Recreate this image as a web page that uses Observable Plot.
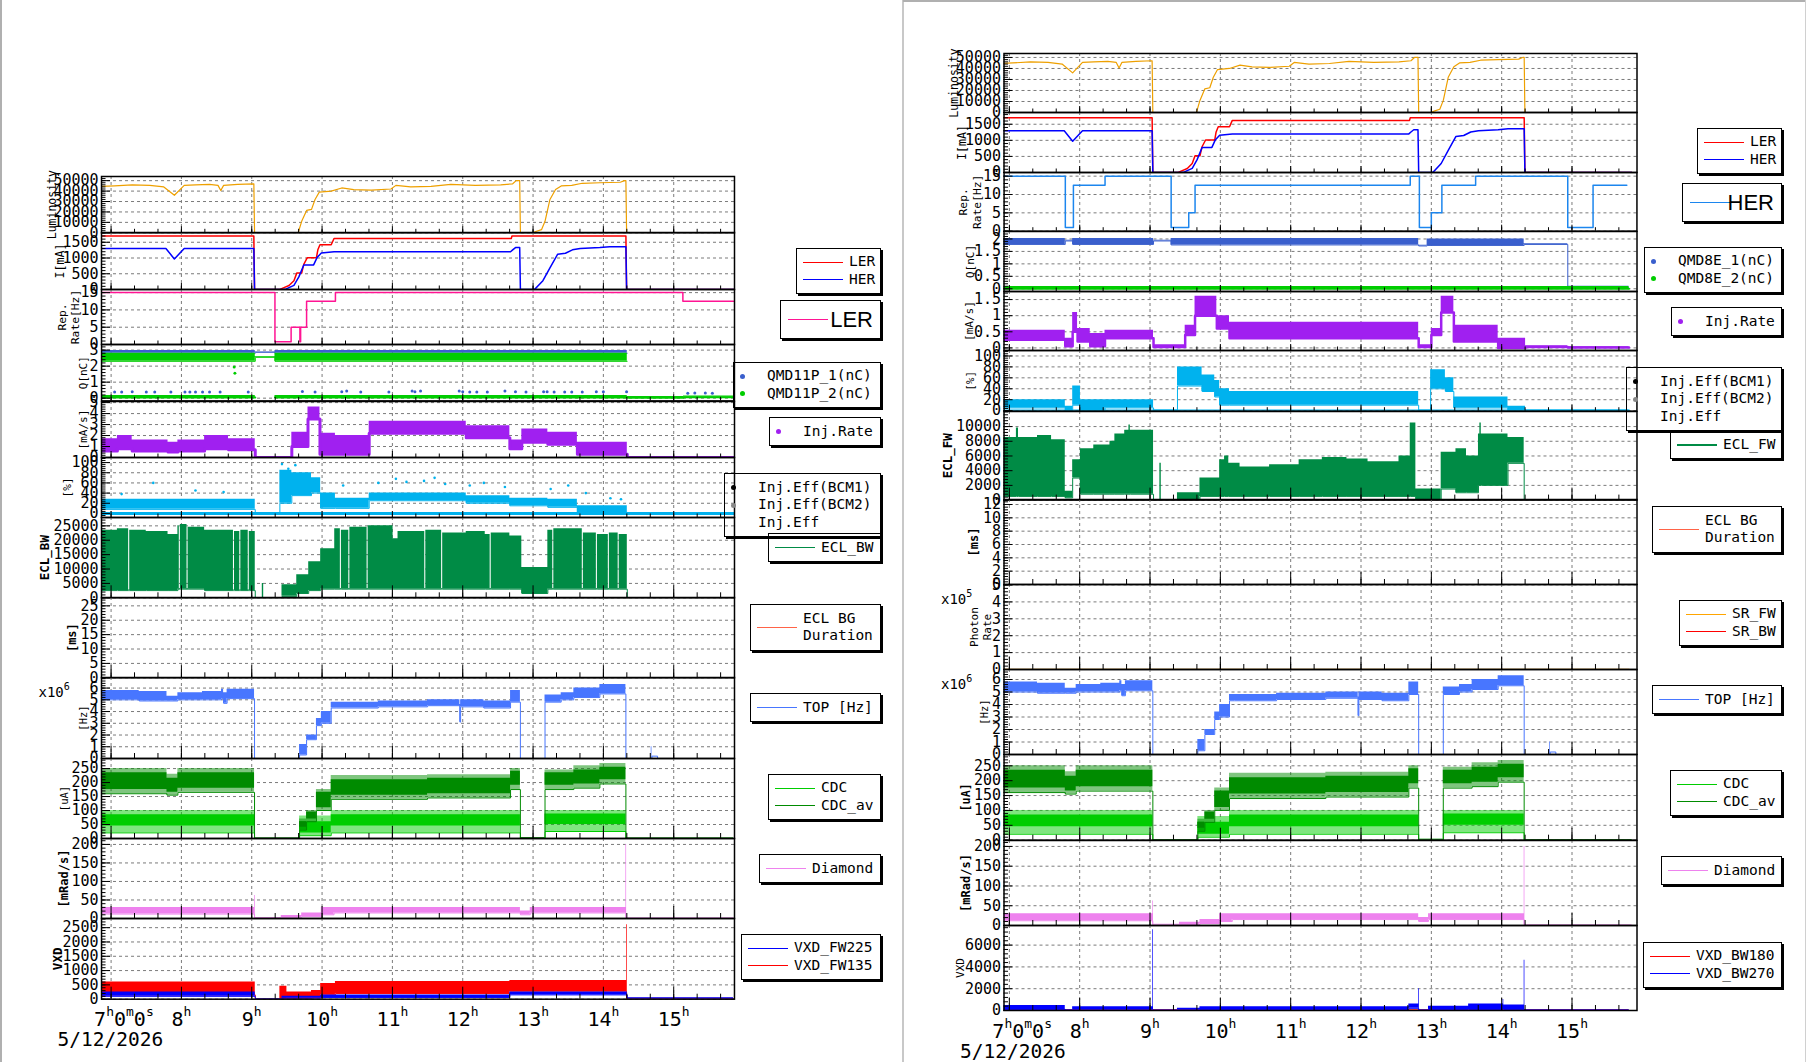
<!DOCTYPE html>
<html><head><meta charset="utf-8">
<script src="https://cdn.jsdelivr.net/npm/d3@7"></script>
<script src="https://cdn.jsdelivr.net/npm/@observablehq/plot@0.6"></script>
<style>
body{margin:0;background:#fff;}
#page{position:relative;width:1806px;height:1062px;overflow:hidden;background:#fff;font-family:"DejaVu Sans Mono",monospace;}
.strip{position:absolute;}
.leg{position:absolute;border:1px solid #000;box-shadow:2px 2px 0 0 #000;box-sizing:border-box;font-family:"DejaVu Sans Mono",monospace;font-size:14.5px;color:#000;}
.leg span{position:absolute;white-space:pre;}
</style></head><body><div id="page"></div>
<script>
// ---------------- DATA (time in hours) ----------------
const hourTicks = [7, 8, 9, 10, 11, 12, 13, 14, 15];
const hourLabels = ["7^h0^m0^s", "8^h", "9^h", "10^h", "11^h", "12^h", "13^h", "14^h", "15^h"];
const dateLabel = "5/12/2026";

const lumData = [[6.86,44500],[7.05,45000],[7.30,46000],[7.55,45500],[7.75,44000],[7.90,36000],[8.04,45500],[8.20,46000],[8.40,46500],[8.52,45500],[8.56,40500],[8.60,45500],[8.80,46500],[9.03,47000],[9.04,0],[9.66,0],[9.71,11000],[9.78,21500],[9.85,22500],[9.90,32000],[9.96,39000],[10.13,40000],[10.28,43000],[10.45,41500],[10.70,41000],[10.98,42000],[11.05,45500],[11.26,44000],[11.55,44500],[11.83,46500],[12.18,45500],[12.54,46000],[12.71,47000],[12.76,50000],[12.81,50000],[12.82,0],[12.99,0],[13.05,1500],[13.12,3000],[13.17,11000],[13.24,32000],[13.32,41500],[13.40,45000],[13.55,45500],[13.70,47500],[13.95,48000],[14.24,48500],[14.30,50000],[14.32,50000],[14.33,0],[15.85,0]];
const currLER = [[6.86,1700],[9.03,1700],[9.04,0],[9.40,0],[9.45,50],[9.53,125],[9.60,280],[9.64,520],[9.71,520],[9.74,800],[9.79,1010],[9.92,1010],[9.94,1260],[9.97,1420],[10.13,1420],[10.17,1620],[12.69,1620],[12.70,1700],[14.32,1700],[14.33,0],[15.85,0]];
const currHER = [[6.86,1300],[7.78,1300],[7.90,970],[8.04,1300],[9.03,1300],[9.04,0],[9.45,0],[9.49,20],[9.60,130],[9.67,400],[9.74,780],[9.88,780],[9.93,1020],[9.99,1160],[10.17,1200],[12.68,1200],[12.71,1260],[12.75,1330],[12.81,1330],[12.82,0],[13.00,0],[13.03,20],[13.14,280],[13.24,690],[13.35,1120],[13.46,1150],[13.56,1260],[13.67,1300],[13.95,1330],[14.09,1360],[14.32,1360],[14.33,0],[15.85,0]];
const repLER = [[6.86,15],[9.33,0.8],[9.56,5],[9.685,0.8],[9.695,5],[9.78,12.5],[10.19,15],[15.13,12.5],[15.85,12.5]];
const repHER = [[6.86,15],[7.795,1],[7.91,12.5],[8.36,15],[9.30,1],[9.55,5],[9.64,12.5],[12.70,15],[12.83,1],[13.00,5],[13.15,12.5],[13.63,15],[14.94,1],[15.30,12.5],[15.78,12.5]];

// [t, low, high] bands (optionally [t, low, coreLow, coreHigh, high])
const qmd11p1 = [[6.86,2.8,2.98],[9.05,2.86,2.9],[9.33,2.8,2.98],[14.34,2.8,2.98]];
const qmd11p2 = [[6.86,2.3,2.8],[9.05,2.55,2.6],[9.33,2.3,2.8],[14.34,2.3,2.8]];
const qmd11p2Low = [[6.86,0.04,0.16],[9.05,0.04,0.16],[9.05,null,null],[9.33,0.04,0.16],[14.34,0.03,0.1],[15.14,0.05,0.14],[15.85,0.05,0.14]];
const qmd11p1Low = [[7.05,0.38],[7.15,0.38],[7.3,0.4],[7.5,0.38],[7.62,0.38],[7.85,0.38],[8.05,0.38],[8.12,0.38],[8.2,0.38],[8.3,0.38],[8.4,0.38],[8.55,0.38],[8.95,0.38],[9.72,0.42],[9.9,0.38],[10.28,0.4],[10.35,0.45],[10.55,0.38],[10.95,0.38],[11.28,0.45],[11.32,0.4],[11.4,0.45],[11.95,0.45],[12.0,0.4],[12.1,0.38],[12.2,0.38],[12.35,0.38],[12.6,0.45],[12.75,0.4],[12.9,0.38],[13.15,0.4],[13.2,0.4],[13.3,0.38],[13.45,0.38],[13.55,0.38],[13.7,0.38],[13.9,0.4],[14.0,0.4],[14.33,0.4],[15.2,0.3],[15.3,0.32],[15.45,0.32],[15.55,0.3]];
const qmd11p2Dots = [[8.75,1.95],[8.76,1.55]];
const qmd8e1 = [[6.86,1.78,2.02],[7.795,1.92,1.95],[7.90,1.78,2.02],[9.05,1.92,1.95],[9.30,1.76,2.02],[12.82,1.72,1.75],[12.94,1.74,2.0],[14.32,1.78,1.81],[14.94,0.04,0.1],[15.81,0.04,0.1]];
const qmd8e2 = [[6.86,0,0.09],[15.81,0,0.09]];

const injRateL = [[6.86,0.6,1.7],[7.09,0.8,2.0],[7.30,0.6,1.6],[7.81,0.5,1.4],[7.95,0.6,1.6],[8.33,0.8,2.0],[8.67,0.7,1.7],[9.05,0,0.05],[9.57,1.0,2.3],[9.80,3.5,4.6],[9.97,0.3,2.2],[10.19,0.3,2.0],[10.67,2.2,3.3],[12.05,1.8,2.9],[12.67,0.8,1.6],[12.84,1.4,2.6],[13.21,1.2,2.3],[13.63,0.3,1.4],[14.34,0,0.05],[15.85,0,0.05]];
const injRateR = [[6.86,0.25,0.55],[7.795,0.05,0.3],[7.90,0.5,1.1],[7.97,0.2,0.6],[8.15,0.05,0.45],[8.36,0.3,0.55],[9.05,0.03,0.1],[9.50,0.4,0.7],[9.64,1.0,1.6],[9.95,0.6,1.0],[10.13,0.3,0.8],[12.82,0.03,0.1],[13.00,0.4,0.6],[13.14,1.1,1.6],[13.32,0.2,0.7],[13.95,0,0.3],[14.34,0.03,0.07],[14.94,0.01,0.04],[15.81,0.01,0.04]];

const injEffL = [[6.86,8,28],[9.05,0,1],[9.40,20,85],[9.57,35,80],[9.85,40,70],[9.98,10,40],[10.19,10,30],[10.67,25,40],[12.05,20,35],[12.67,15,30],[13.21,12,28],[13.63,2,15],[14.34,0,1],[15.85,0,1]];
const effZeroL = [[6.86,0],[15.85,0]];
const effDotsL = [[7.15,38],[7.6,60],[8.2,45],[8.6,42],[9.43,97],[9.52,88],[9.62,95],[9.9,62],[10.3,55],[10.8,60],[11.05,68],[11.2,62],[11.45,64],[11.6,70],[11.75,58],[12.1,55],[12.3,60],[12.6,52],[13.25,48],[13.5,55],[13.75,40],[14.1,30],[14.25,28]];
const injEffR = [[6.86,5,20],[7.795,0,8],[7.90,10,45],[8.01,0,20],[8.36,5,20],[9.05,0,1],[9.39,45,80],[9.74,35,65],[9.92,25,55],[9.99,10,40],[10.13,10,35],[12.82,0,1],[12.99,40,75],[13.20,35,60],[13.32,5,25],[14.09,0,8],[14.34,0,1],[15.81,0,1]];
const effZeroR = [[6.86,0],[15.81,0]];

const eclBW = [[6.86,2500,23500],[7.09,2500,24000],[7.25,2500,2700],[7.265,2500,23500],[7.50,2500,23000],[7.81,2500,22000],[7.95,3000,25000],[7.97,3000,3200],[7.985,3000,25500],[8.08,3000,3200],[8.095,3000,24500],[8.33,2500,23500],[8.74,2500,2700],[8.755,2500,23000],[8.83,2500,2700],[8.845,2500,23500],[8.95,2500,2700],[8.965,2500,23000],[9.05,0,0],[9.15,0,5000],[9.17,0,0],[9.43,500,4500],[9.64,1500,8000],[9.81,2500,12500],[9.98,3000,17000],[10.18,3000,24000],[10.26,3000,3200],[10.275,3000,23500],[10.38,3000,3200],[10.395,3000,24500],[10.64,3000,3200],[10.655,3000,25000],[11.01,3000,20500],[11.08,3000,23000],[11.46,3000,3200],[11.475,3000,23500],[11.70,3000,3200],[11.715,3000,22500],[12.05,3000,23000],[12.32,3000,22000],[12.39,3000,3200],[12.405,3000,22500],[12.67,3000,21500],[12.84,1500,10500],[13.21,3000,23500],[13.28,3000,3200],[13.295,3000,24000],[13.70,3000,3200],[13.715,3000,22500],[13.90,3000,3200],[13.915,3000,22000],[14.07,3000,3200],[14.085,3000,22500],[14.21,3000,3200],[14.225,3000,22000],[14.34,0,0],[15.85,0,0]];
const eclFW = [[6.86,500,8500],[7.10,500,9800],[7.13,500,8500],[7.40,500,8800],[7.60,500,8200],[7.795,300,1200],[7.90,3000,5500],[8.01,800,7000],[8.20,800,7500],[8.43,800,8000],[8.50,800,9000],[8.64,800,9500],[8.70,800,10200],[8.72,800,9500],[9.05,0,0],[9.14,0,5000],[9.16,0,0],[9.39,0,1000],[9.71,500,3000],[9.99,500,5500],[10.06,500,6000],[10.12,500,5000],[10.28,500,4500],[10.70,500,4800],[11.12,500,5500],[11.45,500,5800],[11.80,500,5600],[12.10,500,5200],[12.54,500,6000],[12.70,500,10500],[12.78,0,1500],[13.14,1500,6500],[13.35,1000,7000],[13.50,1000,6000],[13.67,2000,9000],[13.69,2000,10500],[13.71,2000,9000],[14.09,5000,8500],[14.32,0,0],[15.85,0,0]];
const srFW = [[6.86,0],[15.81,0]];
const topHz = [[6.86,5.0,5.8],[7.40,4.9,5.7],[7.795,4.9,5.3],[7.95,5.0,5.6],[8.30,5.0,5.7],[8.57,5.1,5.9],[8.60,4.7,5.6],[8.65,5.1,5.9],[9.04,0,0],[9.68,0.3,1.2],[9.78,1.6,2.0],[9.92,2.8,3.4],[9.99,3.0,4.0],[10.13,4.3,4.8],[10.20,4.3,4.8],[10.80,4.4,4.9],[11.50,4.5,5.0],[11.96,3.1,4.6],[11.97,4.4,5.0],[12.30,4.3,4.9],[12.68,4.8,5.8],[12.82,0,0],[13.17,4.8,5.4],[13.40,5.0,5.6],[13.58,5.2,6.0],[13.95,5.5,6.3],[14.32,0,0],[14.68,0,1.0],[14.69,0.2,0.2],[14.77,0,0],[15.85,0,0]];
const cdcAv = [[6.86,160,175,235,250],[7.795,155,165,215,230],[7.95,165,180,235,250],[9.04,0,0,2,2],[9.68,30,40,60,70],[9.78,60,70,95,100],[9.92,100,110,165,175],[10.13,140,155,210,225],[11.50,145,160,215,228],[12.68,175,190,240,250],[12.82,0,0,3,3],[13.17,175,190,235,245],[13.58,180,195,245,260],[13.95,195,210,255,268],[14.32,0,0,2,2],[15.85,0,0,2,2]];
const cdc = [[6.86,20,45,85,100],[9.04,0,0,0,0],[9.68,10,20,60,80],[10.13,20,45,85,100],[12.82,0,0,0,0],[13.17,25,50,88,100],[14.32,0,0,0,0],[15.85,0,0,0,0]];
const diamond = [[6.86,12,30],[9.04,1,62],[9.05,1,3],[9.42,2,8],[9.71,5,15],[9.99,10,30],[10.17,15,30],[12.82,10,20],[12.96,15,30],[14.32,1,200],[14.33,0.5,2],[15.85,0.5,2]];
const vxdFW135 = [[6.86,150,600],[9.05,5,15],[9.40,0,450],[9.50,30,250],[9.85,50,300],[9.98,150,550],[10.19,200,620],[12.67,250,650],[14.33,20,2600],[14.34,10,30],[15.85,10,30]];
const vxdFW225 = [[6.86,100,250],[9.05,10,25],[9.43,30,100],[9.98,60,150],[12.67,150,250],[14.34,20,50],[15.85,20,50]];
const vxdBW270 = [[6.86,100,450],[7.795,30,80],[7.90,50,350],[9.04,50,7400],[9.05,10,40],[9.39,50,200],[9.71,100,350],[12.68,200,600],[12.82,50,2000],[12.83,20,60],[12.96,100,400],[13.53,100,600],[14.02,100,1000],[14.03,100,500],[14.32,50,4600],[14.33,30,80],[15.81,30,80]];
const vxdBW180 = [[6.86,0,60],[15.81,0,60]];

// ---------------- STYLE ----------------
const C = {lum:"#eea000", ler:"#ff0000", her:"#0000ff", repL:"#ff1493", repH:"#1c86ee", q1:"#3a5fcd", q2:"#00cd00",
  rate:"#a020f0", eff:"#00b2ee", ecl:"#008b45", bg:"#ff6347", top:"#4876ff", cdc:"#00cd00", cdcAv:"#008b00",
  dia:"#ee82ee", vb:"#0000ff", vr:"#ff0000", sr:"#ffa500"};
const FW = 633;
const X = d => d[0];
const line = (data, color, w = 1.2, curve = "linear") => Plot.line(data, {x: X, y: d => d[1], stroke: color, strokeWidth: w, curve, clip: true});
const band = (data, color, w = 1) => [
  Plot.areaY(data, {x: X, y1: d => d[1], y2: d => d[2], curve: "step-after", fill: color, clip: true}),
  Plot.line(data, {x: X, y: d => d[1], curve: "step-after", stroke: color, strokeWidth: w, clip: true})
];
// noisy band: faint outer envelope + solid core
const band5 = (data, color) => [
  Plot.areaY(data, {x: X, y1: d => d[1], y2: d => d[4], curve: "step-after", fill: color, fillOpacity: 0.5, clip: true}),
  Plot.areaY(data, {x: X, y1: d => d[2], y2: d => d[3], curve: "step-after", fill: color, clip: true}),
  Plot.line(data, {x: X, y: d => d[1], curve: "step-after", stroke: color, strokeWidth: 1, clip: true})
];
const dots = (data, color, r = 1.3) => Plot.dot(data, {x: X, y: d => d[1], r, fill: color, stroke: null, clip: true});

const leftBounds = [176, 232.3, 289.3, 344.3, 400.7, 456.7, 516.7, 597, 677.3, 758.3, 838.3, 918.3, 999];
const rightBounds = [53.3, 112.3, 172.3, 231, 291, 350, 410.7, 499.3, 584.3, 669.3, 754.3, 840, 925, 1010];

const lumTicks = [0,10000,20000,30000,40000,50000];
const leftPanels = [
  {title:"Luminosity", dx:-50, size:11.5, domain:[0,54000], ticks:lumTicks, minor:2000, marks:[line(lumData, C.lum)]},
  {title:"I[mA]", dx:-42, size:11.6, domain:[0,1810], ticks:[0,500,1000,1500], minor:100, marks:[line(currLER, C.ler, 1.5), line(currHER, C.her, 1.5)]},
  {title:"Rep.\nRate[Hz]", dx:-33.5, size:11.3, domain:[0,15.9], ticks:[0,5,10,15], minor:1, marks:[line(repLER, C.repL, 1.5, "step-after")]},
  {title:"Q[nC]", dx:-18.6, size:11, domain:[-0.17,3.35], ticks:[0,1,2,3], minor:0.2, marks:[...band(qmd11p1, C.q1), ...band(qmd11p2, C.q2), ...band(qmd11p2Low, C.q2, 2), dots(qmd11p1Low, C.q1, 1.5), dots(qmd11p2Dots, C.q2, 1.5)]},
  {title:"[mA/s]", dx:-18.6, size:11, domain:[0,5.1], ticks:[0,1,2,3,4,5], minor:0.2, marks:[...band(injRateL, C.rate, 3)]},
  {title:"[%]", dx:-34.6, size:11, domain:[-8,110], ticks:[0,20,40,60,80,100], minor:4, marks:[line(effZeroL, C.eff, 3), ...band(injEffL, C.eff), dots(effDotsL, C.eff, 1.3)]},
  {title:"ECL_BW", bold:true, dx:-57, size:12.5, domain:[0,27900], ticks:[0,5000,10000,15000,20000,25000], minor:1000, marks:[...band(eclBW, C.ecl)]},
  {title:"[ms]", bold:true, dx:-29.7, size:12, domain:[0,27.9], ticks:[0,5,10,15,20,25], minor:1, marks:[]},
  {title:"[Hz]", dx:-18.6, size:10.5, domain:[0,6.9], ticks:[0,1,2,3,4,5,6], minor:0.2, exp:"x10^6", marks:[...band(topHz, C.top)]},
  {title:"[uA]", dx:-38, size:10.5, domain:[0,286], ticks:[0,50,100,150,200,250], minor:10, marks:[...band5(cdc, C.cdc), ...band5(cdcAv, C.cdcAv)]},
  {title:"[mRad/s]", bold:true, dx:-38, size:12, domain:[0,216], ticks:[0,50,100,150,200], minor:10, marks:[...band(diamond, C.dia)]},
  {title:"VXD", bold:true, dx:-44, size:12.5, domain:[0,2820], ticks:[0,500,1000,1500,2000,2500], minor:100, marks:[...band(vxdFW135, C.vr), ...band(vxdFW225, C.vb)]}
];
const rightPanels = [
  {title:"Luminosity", dx:-50.3, size:11.5, domain:[0,53600], ticks:lumTicks, minor:2000, marks:[line(lumData, C.lum)]},
  {title:"I[mA]", dx:-42.8, size:11.6, domain:[0,1865], ticks:[0,500,1000,1500], minor:100, marks:[line(currLER, C.ler, 1.5), line(currHER, C.her, 1.5)]},
  {title:"Rep.\nRate[Hz]", dx:-34.4, size:11.3, domain:[0,16], ticks:[0,5,10,15], minor:1, marks:[line(repHER, C.repH, 1.5, "step-after")]},
  {title:"Q[nC]", dx:-33.8, size:11, domain:[-0.11,2.3], ticks:[0,0.5,1,1.5,2], minor:0.1, marks:[...band(qmd8e1, C.q1), ...band(qmd8e2, C.q2, 2)]},
  {title:"[mA/s]", dx:-34.8, size:11, domain:[-0.08,1.75], ticks:[0,0.5,1,1.5], minor:0.1, marks:[...band(injRateR, C.rate, 2.5)]},
  {title:"[%]", dx:-34.8, size:11, domain:[-1,110], ticks:[0,20,40,60,80,100], minor:4, marks:[line(effZeroR, C.eff, 2.5), ...band(injEffR, C.eff)]},
  {title:"ECL_FW", bold:true, dx:-57.2, size:12.5, domain:[0,12050], ticks:[0,2000,4000,6000,8000,10000], minor:400, marks:[...band(eclFW, C.ecl)]},
  {title:"[ms]", bold:true, dx:-30.4, size:12, domain:[0,12.75], ticks:[0,2,4,6,8,10,12], minor:0.4, marks:[]},
  {title:"Photon\nRate", dx:-24, size:11, domain:[0,5.03], ticks:[0,1,2,3,4,5], minor:0.2, exp:"x10^5", marks:[line(srFW, C.sr, 1.5)]},
  {title:"[Hz]", dx:-19.9, size:10.5, domain:[0,6.8], ticks:[0,1,2,3,4,5,6], minor:0.2, exp:"x10^6", marks:[...band(topHz, C.top)]},
  {title:"[uA]", bold:true, dx:-38.8, size:11.7, domain:[0,288], ticks:[0,50,100,150,200,250], minor:10, marks:[...band5(cdc, C.cdc), ...band5(cdcAv, C.cdcAv)]},
  {title:"[mRad/s]", bold:true, dx:-38.8, size:12, domain:[0,215], ticks:[0,50,100,150,200], minor:10, marks:[...band(diamond, C.dia)]},
  {title:"VXD", dx:-43.8, size:11, domain:[0,7800], ticks:[0,2000,4000,6000], minor:400, marks:[...band(vxdBW180, C.vr), ...band(vxdBW270, C.vb)]}
];

const legendsL = [
  {x:796, y:248, w:85, h:46, items:[["LER", C.ler, "line"], ["HER", C.her, "line"]]},
  {x:780, y:300, w:101, h:39, big:"LER", color:C.repL},
  {x:733, y:362, w:148, h:46, items:[["QMD11P_1(nC)", C.q1, "dot"], ["QMD11P_2(nC)", C.q2, "dot"]]},
  {x:769, y:417, w:112, h:29, items:[["Inj.Rate", C.rate, "dot"]]},
  {x:724, y:473, w:157, h:64, items:[["Inj.Eff(BCM1)", "#000", "dot"], ["Inj.Eff(BCM2)", "#888", "dot"], ["Inj.Eff", C.eff, "none"]]},
  {x:768, y:533, w:113, h:29, items:[["ECL_BW", C.ecl, "line"]]},
  {x:750, y:604, w:131, h:47, items:[["ECL BG\nDuration", C.bg, "line"]]},
  {x:750, y:693, w:131, h:29, items:[["TOP [Hz]", C.top, "line"]]},
  {x:768, y:774, w:113, h:46, items:[["CDC", C.cdc, "line"], ["CDC_av", C.cdcAv, "line"]]},
  {x:759, y:854, w:122, h:29, items:[["Diamond", C.dia, "line"]]},
  {x:741, y:934, w:140, h:46, items:[["VXD_FW225", C.vb, "line"], ["VXD_FW135", C.vr, "line"]]}
];
const legendsR = [
  {x:1697, y:128, w:85, h:46, items:[["LER", C.ler, "line"], ["HER", C.her, "line"]]},
  {x:1682, y:183, w:100, h:39, big:"HER", color:C.repH},
  {x:1644, y:247, w:138, h:46, items:[["QMD8E_1(nC)", C.q1, "dot"], ["QMD8E_2(nC)", C.q2, "dot"]]},
  {x:1671, y:307, w:111, h:29, items:[["Inj.Rate", C.rate, "dot"]]},
  {x:1626, y:367, w:156, h:64, items:[["Inj.Eff(BCM1)", "#000", "dot"], ["Inj.Eff(BCM2)", "#888", "dot"], ["Inj.Eff", C.eff, "none"]]},
  {x:1670, y:431, w:112, h:28, items:[["ECL_FW", C.ecl, "line"]]},
  {x:1652, y:506, w:130, h:47, items:[["ECL BG\nDuration", C.bg, "line"]]},
  {x:1679, y:600, w:103, h:46, items:[["SR_FW", C.sr, "line"], ["SR_BW", C.vr, "line"]]},
  {x:1652, y:685, w:130, h:29, items:[["TOP [Hz]", C.top, "line"]]},
  {x:1670, y:770, w:112, h:46, items:[["CDC", C.cdc, "line"], ["CDC_av", C.cdcAv, "line"]]},
  {x:1661, y:856, w:121, h:29, items:[["Diamond", C.dia, "line"]]},
  {x:1643, y:942, w:139, h:46, items:[["VXD_BW180", C.vr, "line"], ["VXD_BW270", C.vb, "line"]]}
];

// ---------------- RENDER ----------------
const page = document.getElementById("page");

function supify(svg) {
  svg.querySelectorAll("text").forEach(t => {
    if (t.children.length || !t.textContent.includes("^")) return;
    const small = t.textContent.startsWith("x10");
    const size = small ? 10 : 13, raise = small ? 7 : 10;
    const parts = t.textContent.split(/\^(\w)/);
    t.textContent = "";
    let up = false;
    parts.forEach((p, i) => {
      if (!p) return;
      const ts = document.createElementNS("http://www.w3.org/2000/svg", "tspan");
      ts.textContent = p;
      if (i % 2 === 1) { ts.setAttribute("font-size", size); ts.setAttribute("dy", -raise); up = true; }
      else if (up) { ts.setAttribute("dy", raise); up = false; }
      t.appendChild(ts);
    });
  });
}

function drawPanel(canvasLeft, frameLeft, top, bottom, xDomain, cfg, isBottom) {
  const h = bottom - top;
  const mb = isBottom ? 52 : 0;
  const ml = frameLeft - canvasLeft;
  const big = h > 70;
  const [y0, y1] = cfg.domain;
  const minorY = d3.range(Math.ceil(y0 / cfg.minor - 1e-6), Math.floor(y1 / cfg.minor + 1e-6) + 1).map(k => k * cfg.minor);
  const minorX = d3.range(Math.ceil(xDomain[0] * 3), Math.floor(xDomain[1] * 3) + 1).map(k => k / 3);
  const marks = [
    Plot.gridX(hourTicks, {stroke: "#7a7a7a", strokeOpacity: 1, strokeDasharray: "3,3"}),
    Plot.gridY(cfg.ticks, {stroke: "#7a7a7a", strokeOpacity: 1, strokeDasharray: "3,3"}),
    ...cfg.marks,
    Plot.tickY(minorY, {y: d => d, insetRight: FW - 4.5, stroke: "#000"}),
    Plot.tickY(cfg.ticks, {y: d => d, insetRight: FW - 9, stroke: "#000"}),
    Plot.tickX(minorX, {x: d => d, insetTop: h - (big ? 5 : 3.5), stroke: "#000"}),
    Plot.tickX(hourTicks, {x: d => d, insetTop: h - (big ? 12 : 6), stroke: "#000"}),
    Plot.axisY(cfg.ticks, {anchor: "left", tickSize: 0, tickPadding: 3, fontSize: 15, tickFormat: d => String(d), label: null}),
    Plot.frame({stroke: "#000", strokeWidth: 1.5}),
    Plot.text([cfg.title], {frameAnchor: "left", text: d => d, rotate: -90, dx: cfg.dx, textAnchor: "middle", lineAnchor: "middle", fontSize: cfg.size, fontWeight: cfg.bold ? "bold" : "normal", lineHeight: 1.2})
  ];
  if (cfg.exp) marks.push(Plot.text([cfg.exp], {frameAnchor: "top-left", text: d => d, dx: -63, dy: 19, textAnchor: "start", lineAnchor: "bottom", fontSize: 14}));
  if (isBottom) {
    marks.push(Plot.text(hourTicks.slice(1), {x: d => d, frameAnchor: "bottom", dy: 27, text: d => hourLabels[hourTicks.indexOf(d)], fontSize: 20, textAnchor: "middle", lineAnchor: "bottom"}));
    marks.push(Plot.text(hourTicks.slice(0, 1), {x: d => d, frameAnchor: "bottom", dx: -17, dy: 27, text: d => hourLabels[hourTicks.indexOf(d)], fontSize: 20, textAnchor: "start", lineAnchor: "bottom"}));
    marks.push(Plot.text([dateLabel], {frameAnchor: "bottom-left", text: d => d, dx: -44, dy: 47, textAnchor: "start", lineAnchor: "bottom", fontSize: 19.5}));
  }
  const svg = Plot.plot({
    width: 903, height: h + mb,
    marginLeft: ml, marginRight: 903 - ml - FW, marginTop: 0, marginBottom: mb,
    style: {overflow: "visible", background: "transparent", fontFamily: "DejaVu Sans Mono", color: "#000"},
    x: {domain: xDomain, axis: null},
    y: {domain: cfg.domain, axis: null},
    marks
  });
  supify(svg);
  svg.classList.add("strip");
  svg.style.position = "absolute";
  svg.style.left = canvasLeft + "px";
  svg.style.top = top + "px";
  page.appendChild(svg);
}

function drawLegend(cfg) {
  const box = document.createElement("div");
  box.className = "leg";
  Object.assign(box.style, {left: cfg.x + "px", top: cfg.y + "px", width: cfg.w + "px", height: cfg.h + "px"});
  const inner = cfg.h - 2;
  if (cfg.big) {
    const ln = document.createElement("div");
    Object.assign(ln.style, {position: "absolute", left: "7px", width: "40px", top: (inner / 2 - 0.6) + "px", height: "1.2px", background: cfg.color});
    box.appendChild(ln);
    const s = document.createElement("span");
    s.textContent = cfg.big;
    Object.assign(s.style, {right: "7px", top: "0px", lineHeight: inner + "px", fontFamily: "'Liberation Sans', Arial, sans-serif", fontSize: "22px"});
    box.appendChild(s);
  } else {
    const rowH = 17.6;
    const textLeft = cfg.items.some(it => it[2] === "dot") ? 33 : 52;
    const n = cfg.items.reduce((a, it) => a + it[0].split("\n").length, 0);
    let y = (inner - n * rowH) / 2;
    for (const [label, color, kind] of cfg.items) {
      const lines = label.split("\n").length;
      const hh = rowH * lines, cy = y + hh / 2;
      if (kind === "line") {
        const ln = document.createElement("div");
        Object.assign(ln.style, {position: "absolute", left: "6px", width: "40px", top: (cy - 0.6) + "px", height: "1.2px", background: color});
        box.appendChild(ln);
      } else if (kind === "dot") {
        const dt = document.createElement("div");
        Object.assign(dt.style, {position: "absolute", left: "6px", width: "5px", height: "5px", borderRadius: "50%", top: (cy - 2.5) + "px", background: color});
        box.appendChild(dt);
      }
      const s = document.createElement("span");
      s.textContent = label;
      Object.assign(s.style, {left: textLeft + "px", top: y + "px", lineHeight: rowH + "px", textAlign: "left"});
      box.appendChild(s);
      y += hh;
    }
  }
  page.appendChild(box);
}

// canvas borders
function rect(l, t, w, h, bg) {
  const d = document.createElement("div");
  Object.assign(d.style, {position: "absolute", left: l + "px", top: t + "px", width: w + "px", height: h + "px", background: bg});
  page.appendChild(d);
}
rect(0, 0, 1.5, 1062, "#b0b0b0");
rect(902, 0, 2, 1062, "#c8c8c8");
rect(903, 0, 903, 1.5, "#b0b0b0");
rect(1804.5, 0, 1.5, 1062, "#d0d0d0");

const xDomL = [6.864, 15.864], xDomR = [6.924, 15.924];
leftPanels.forEach((cfg, i) => drawPanel(0, 101, leftBounds[i], leftBounds[i + 1], xDomL, cfg, i === leftPanels.length - 1));
rightPanels.forEach((cfg, i) => drawPanel(903, 1003.5, rightBounds[i], rightBounds[i + 1], xDomR, cfg, i === rightPanels.length - 1));
legendsL.forEach(drawLegend);
legendsR.forEach(drawLegend);
</script></body></html>
